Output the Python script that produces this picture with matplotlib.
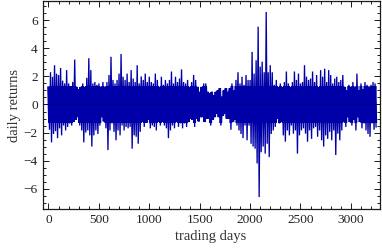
import matplotlib
matplotlib.use("Agg")
import matplotlib.pyplot as plt
from matplotlib.ticker import MultipleLocator
from matplotlib.patches import Rectangle

# 20-day bins, start day of each bin
days = list(range(0, 3241, 20))

# upper extreme of daily returns in each bin
upper = [
    1.2, 2.3, 1.97, 2.8, 2.2, 2.1, 2.6, 1.7, 1.5, 2.45, 1.5, 1.3, 1.6, 3.2, 1.25, 1.1, 1.25, 1.5, 1.25, 1.9, 3.3, 2.45, 1.5, 1.6, 1.4,
    1.5, 1.25, 1.6, 1.25, 1.6, 2.1, 3.4, 1.75, 1.5, 1.75, 2.2, 3.6, 1.98, 1.75, 2.2, 1.6, 2.45, 1.85, 1.6, 2.8, 1.5, 2.0, 1.75, 2.2, 1.6, 1.98, 1.6, 1.5, 2.2, 1.75,
    1.25, 1.98, 1.4, 1.75, 1.5, 1.75, 2.35, 1.5, 1.98, 1.6, 1.85, 2.5, 1.6, 1.5, 1.75, 1.25, 1.6, 2.1, 1.75, 1.25, 0.9, 1.25, 1.5, 1.5, 0.9, 0.8, 0.9, 0.67,
    0.9, 1.0, 1.15, 0.55, 1.0, 1.15, 0.9, 1.15, 1.5, 1.0, 1.75, 2.3, 1.5, 1.98, 1.4, 2.1, 1.75, 1.75, 3.75, 2.2, 3.15, 5.55, 2.7, 3.05, 2.3, 6.6, 2.3, 2.8, 2.3,
    1.4, 1.75, 1.25, 1.5, 1.25, 1.6, 2.35, 1.5, 1.25, 1.6, 2.35, 1.75, 2.2, 1.5, 1.6, 2.8, 1.98, 1.75, 1.85, 2.35, 1.6, 2.1, 1.25, 2.45, 1.98, 2.55,
    1.6, 2.45, 2.1, 1.5, 1.85, 1.98, 1.6, 1.75, 2.1, 1.25, 1.0, 1.4, 1.25, 1.6, 1.25, 2.2, 1.0, 1.5, 1.1, 1.6, 1.4, 1.25, 1.4, 1.6, 1.5,
]

# lower extreme of daily returns in each bin
lower = [
    -1.8, -2.7, -2.1, -1.9, -2.4, -1.7, -2.2, -1.5, -1.85, -1.6, -1.35, -1.5, -1.25, -1.1, -0.9, -1.5, -1.85, -2.7, -2.0, -1.85, -2.2, -3.0, -2.2, -1.85, -2.1,
    -1.5, -0.9, -1.2, -1.7, -3.25, -1.85, -1.35, -1.95, -2.55, -1.85, -2.2, -1.5, -1.85, -1.6, -1.7, -1.6, -3.15, -2.2, -2.3, -2.8, -1.95, -1.25, -1.6, -1.3, -1.1, -1.7, -1.5, -1.6, -1.85, -1.25,
    -1.5, -1.25, -1.5, -1.7, -2.4, -1.85, -1.5, -1.7, -1.25, -1.6, -1.35, -1.7, -1.35, -1.6, -1.25, -1.0, -1.1, -1.6, -1.0, -1.2, -0.9, -0.9, -1.25, -1.0, -1.0, -1.5, -1.1, -0.9,
    -0.65, -0.9, -1.5, -0.8, -0.65, -1.0, -1.0, -1.8, -1.25, -1.1, -1.5, -1.85, -2.1, -2.4, -1.5, -2.55, -1.5, -2.8, -3.0, -3.15, -4.2, -6.6, -3.4, -3.0, -3.5, -2.8, -3.75, -2.1, -1.85,
    -1.6, -1.0, -1.35, -1.25, -2.2, -2.65, -1.85, -2.2, -1.5, -2.08, -1.85, -3.5, -2.2, -1.85, -1.7, -2.08, -2.65, -1.85, -2.45, -1.7, -1.6, -2.3, -1.85, -2.55, -3.0, -2.2,
    -2.45, -1.95, -2.55, -1.85, -3.6, -2.08, -2.55, -1.85, -1.25, -1.6, -0.9, -1.25, -1.5, -1.1, -1.85, -0.9, -1.25, -1.7, -1.35, -1.85, -2.1, -2.3, -1.35, -1.8, -1.6,
]

x_ticks = [0, 500, 1000, 1500, 2000, 2500, 3000]
y_ticks = [-6, -4, -2, 0, 2, 4, 6]

# series: alternate between the bin's upper and lower extreme
xs, ys = [], []
for d, hi, lo in zip(days, upper, lower):
    xs += [d, d + 10]
    ys += [hi, lo]

plt.rcParams['font.family'] = ['Liberation Serif', 'DejaVu Serif']
fig = plt.figure(figsize=(3.82, 2.49), dpi=100)
ax = fig.add_axes([42.7 / 382, 1 - 209.3 / 249, (379.5 - 42.7) / 382, (209.3 - 0.8) / 249])

line_color = '#0000a8'
ax.plot(xs, ys, color=line_color, lw=0.95, solid_joinstyle='miter')
# the dense core of the band, where the many daily values overlap
core, = ax.plot(xs, ys, color=line_color, lw=1.8, solid_joinstyle='miter')
clip = Rectangle((-100, -1.3), 3500, 2.6, transform=ax.transData, visible=False)
ax.add_patch(clip)
core.set_clip_path(clip)
ax.axhline(0, color='#000078', lw=0.5, zorder=3)

ax.set_xlim(-57.5, 3284)
ax.set_ylim(-7.47, 7.39)
ax.set_xticks(x_ticks)
ax.set_yticks(y_ticks)
ax.set_yticklabels([str(v).replace('-', '\u2212') for v in y_ticks])
ax.xaxis.set_minor_locator(MultipleLocator(100))
ax.yaxis.set_minor_locator(MultipleLocator(0.5))

frame_c = '#1a1a1a'
for s in ax.spines.values():
    s.set_color(frame_c)
    s.set_linewidth(0.9)
ax.tick_params(which='both', direction='in', top=True, right=True, colors=frame_c,
               labelsize=9.6, labelcolor='#222222', width=0.7)
ax.tick_params(which='major', length=4, pad=3.5)
ax.tick_params(which='minor', length=2)

ax.set_xlabel('trading days', fontsize=10.5, color='#333333', labelpad=3)
ax.set_ylabel('daily returns', fontsize=10.5, color='#333333', labelpad=2)

fig.savefig('out.png', dpi=100)
